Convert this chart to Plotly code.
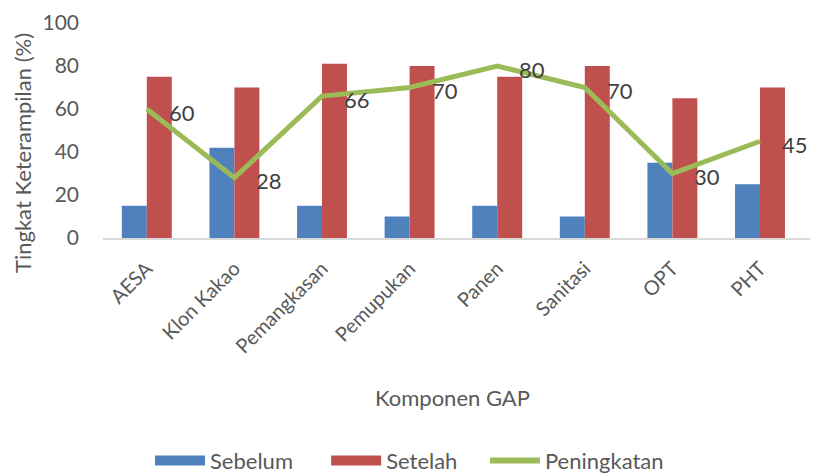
import plotly.graph_objects as go

categories = ["AESA", "Klon Kakao", "Pemangkasan", "Pemupukan", "Panen", "Sanitasi", "OPT", "PHT"]
sebelum = [15, 42, 15, 10, 15, 10, 35, 25]
setelah = [75, 70, 81, 80, 75, 80, 65, 70]
peningkatan = [60, 28, 66, 70, 80, 70, 30, 45]
series_names = ["Sebelum", "Setelah", "Peningkatan"]
series_colors = ["#4F81BD", "#C0504D", "#9BBB59"]

FONT = "Lato"
GREY = "#595959"
NB = "\u00a0"

fig = go.Figure()
fig.add_trace(go.Bar(name=series_names[0], x=categories, y=sebelum, marker_color=series_colors[0],
                     marker_line_width=0, showlegend=False))
fig.add_trace(go.Bar(name=series_names[1], x=categories, y=setelah, marker_color=series_colors[1],
                     marker_line_width=0, showlegend=False))
fig.add_trace(go.Scatter(name=series_names[2], x=categories, y=peningkatan, mode="lines",
                         line=dict(color=series_colors[2], width=5), showlegend=False))

# legend entries (wide rectangle swatches like the original); trailing spaces set the gaps
for nm, col, w, pad in zip(series_names, series_colors, [13, 13, 6], [5, 4, 0]):
    fig.add_trace(go.Scatter(name=nm + NB * pad, x=[None], y=[None], mode="lines",
                             line=dict(color=col, width=w), showlegend=True))

for c, v in zip(categories, peningkatan):
    fig.add_annotation(x=c, y=v, text=str(v), showarrow=False, xanchor="left",
                       yanchor="middle", xshift=20, yshift=-3,
                       font=dict(family=FONT, size=22, color="#404040"))

# axis titles
fig.add_annotation(xref="paper", yref="paper", x=0, y=(238 - 153) / 215, xshift=-81,
                   text="Tingkat Keterampilan (%)", textangle=-90, showarrow=False,
                   xanchor="center", yanchor="middle",
                   font=dict(family=FONT, size=22, color=GREY))
fig.add_annotation(xref="paper", yref="paper", x=0.5, y=(238 - 397) / 215, xshift=-4,
                   text="Komponen GAP", showarrow=False,
                   xanchor="center", yanchor="middle",
                   font=dict(family=FONT, size=22, color=GREY))

fig.update_layout(
    width=813, height=475,
    margin=dict(l=103, r=3, t=23, b=237),
    plot_bgcolor="white", paper_bgcolor="white",
    barmode="group", bargap=0.43, bargroupgap=0,
    font=dict(family=FONT, color=GREY),
    showlegend=True,
    legend=dict(orientation="h", x=(150 - 103) / 707, xanchor="left", y=0.03, yanchor="middle",
                yref="container", font=dict(size=22, color=GREY),
                itemwidth=50, traceorder="normal"),
)
fig.update_xaxes(
    showline=True, linecolor="#D9D9D9", linewidth=2, showgrid=False,
    tickangle=-45, tickfont=dict(size=20, color=GREY), ticklabelstandoff=9,
    automargin=False,
)
fig.update_yaxes(
    range=[0, 100], dtick=20, showgrid=False, zeroline=False, showline=False,
    tickfont=dict(size=21, color=GREY), ticklabelstandoff=23,
    automargin=False,
)

fig.write_html("out.html")
